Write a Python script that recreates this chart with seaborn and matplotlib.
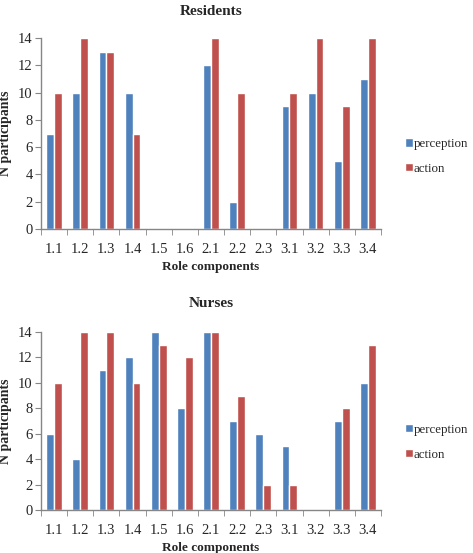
import numpy as np
import pandas as pd
import seaborn as sns
import matplotlib.pyplot as plt
from matplotlib.ticker import FixedLocator, NullFormatter

# data
components = ['1.1', '1.2', '1.3', '1.4', '1.5', '1.6', '2.1', '2.2', '2.3', '3.1', '3.2', '3.3', '3.4']
components_nurses = ['1.1', '1.2', '1.3', '1.4', '1.5', '1.6', '2.1', '2.2', '2.3', '3.1', '3.2', '3.3', '3.4']

residents_perception = [7, 10, 13, 10, 0, 0, 12, 2, 0, 9, 10, 5, 11]
residents_action = [10, 14, 13, 7, 0, 0, 14, 10, 0, 10, 14, 9, 14]

nurses_perception = [6, 4, 11, 12, 14, 8, 14, 7, 6, 5, 0, 7, 10]
nurses_action = [10, 14, 14, 10, 13, 12, 14, 9, 2, 2, 0, 8, 13]

series = ['perception', 'action']
palette = {'perception': '#4F81BD', 'action': '#C0504D'}


def make_long(cats, perc, act):
    df = pd.DataFrame({'component': cats, 'perception': perc, 'action': act})
    return df.melt(id_vars='component', var_name='type', value_name='n')


sns.set_style('white')
plt.rcParams['font.family'] = ['Liberation Serif', 'DejaVu Serif']

fig = plt.figure(figsize=(4.73, 5.53), dpi=100)
ax1 = fig.add_axes([0.0867, 0.586, 0.7188, 0.345])
ax2 = fig.add_axes([0.0867, 0.0778, 0.7188, 0.3218])

panels = [
    (ax1, 'Residents', make_long(components, residents_perception, residents_action), components, 17),
    (ax2, 'Nurses', make_long(components_nurses, nurses_perception, nurses_action), components_nurses, 18),
]

for ax, title, df, cats, tpad in panels:
    sns.barplot(data=df, x='component', y='n', hue='type', hue_order=series,
                palette=palette, width=0.6, saturation=1, ax=ax, order=cats)
    ax.set_ylim(0, 14)
    ax.set_xlim(-0.5, len(cats) - 0.5)
    ax.set_yticks(np.arange(0, 15, 2))
    ax.set_title(title, fontsize=11, fontweight='bold', pad=tpad)
    ax.set_xlabel('Role components', fontsize=9.5, fontweight='bold', labelpad=4)
    ax.set_ylabel('N participants', fontsize=10, fontweight='bold', labelpad=4)
    for s in ['top', 'right']:
        ax.spines[s].set_visible(False)
    for s in ['left', 'bottom']:
        ax.spines[s].set_color('#868686')
        ax.spines[s].set_linewidth(1.0)
    ax.tick_params(axis='x', which='major', length=0, labelsize=10.5, pad=10)
    ax.tick_params(axis='y', which='major', length=4, color='#868686', labelsize=10.5, pad=2, left=True)
    ax.xaxis.set_minor_locator(FixedLocator(np.arange(-0.5, len(cats), 1.0)))
    ax.xaxis.set_minor_formatter(NullFormatter())
    ax.tick_params(axis='x', which='minor', length=4, color='#868686', bottom=True)
    ax.legend(loc='center left', bbox_to_anchor=(1.07, 0.38), frameon=False,
              fontsize=9.3, handlelength=0.6, handleheight=0.6, handletextpad=0.1,
              labelspacing=1.0, borderpad=0, borderaxespad=0)

fig.savefig('out.png', dpi=100)
